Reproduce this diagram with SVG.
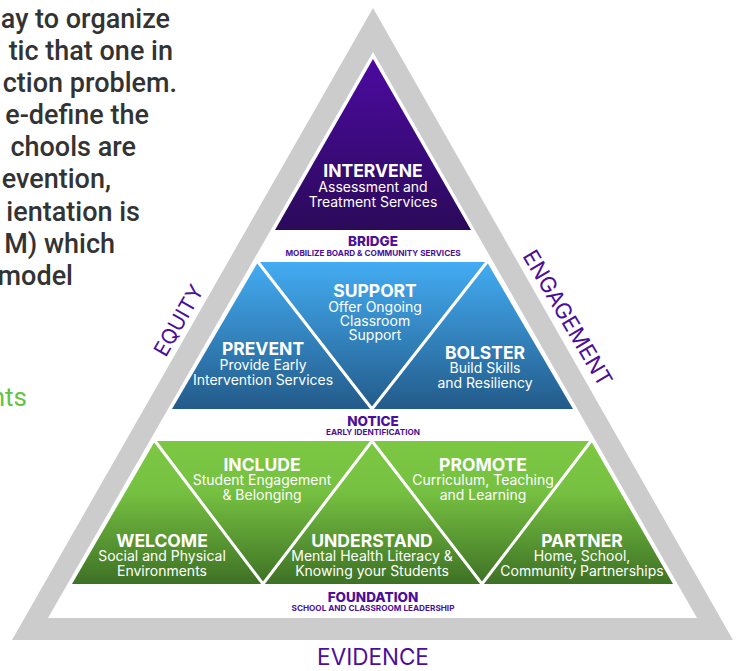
<svg xmlns="http://www.w3.org/2000/svg" width="736" height="671" viewBox="0 0 736 671">
<defs>
<linearGradient id="gPurple" x1="0" y1="59" x2="0" y2="230" gradientUnits="userSpaceOnUse">
<stop offset="0" stop-color="#4c0aa0"/><stop offset="1" stop-color="#2b0a5a"/>
</linearGradient>
<linearGradient id="gBlue" x1="0" y1="262" x2="0" y2="409" gradientUnits="userSpaceOnUse">
<stop offset="0" stop-color="#43acf2"/><stop offset="1" stop-color="#235b8a"/>
</linearGradient>
<linearGradient id="gGreen" x1="0" y1="441" x2="0" y2="584" gradientUnits="userSpaceOnUse">
<stop offset="0" stop-color="#7cc843"/><stop offset="0.35" stop-color="#76c141"/><stop offset="1" stop-color="#3e7125"/>
</linearGradient>
<style>
.h{font-family:"Inter","Liberation Sans",sans-serif;font-weight:700;fill:#fff;text-anchor:middle;font-size:17.5px}
.s{font-family:"Inter","Liberation Sans",sans-serif;font-weight:400;fill:#fff;text-anchor:middle;font-size:14px}
.lh{font-family:"Inter","Liberation Sans",sans-serif;font-weight:800;fill:#4b0f9a;text-anchor:middle;font-size:13.5px}
.ls{font-family:"Inter","Liberation Sans",sans-serif;font-weight:700;fill:#4b0f9a;text-anchor:middle;font-size:8.2px}
.side{font-family:"Inter","Liberation Sans",sans-serif;font-weight:400;fill:#4b0f9a;text-anchor:middle;font-size:21px}
.body{font-family:"Roboto","Liberation Sans",sans-serif;font-weight:500;fill:#333;text-anchor:end;font-size:27px}
.div{stroke:#fff;stroke-width:3;fill:none}
</style>
</defs>
<rect width="736" height="671" fill="#fff"/>
<g id="intro-text">
<text class="body" x="170" y="28">ay to organize</text>
<text class="body" x="173" y="60">tic that one in</text>
<text class="body" x="177" y="92">ction problem.</text>
<text class="body" x="149" y="124">e-define the</text>
<text class="body" x="136" y="156">chools are</text>
<text class="body" x="111" y="188">evention,</text>
<text class="body" x="140" y="221">ientation is</text>
<text class="body" x="115" y="253">M) which</text>
<text class="body" x="73" y="285">model</text>
<text x="27" y="406" style="font-family:Roboto,'Liberation Sans',sans-serif;font-size:26px;fill:#66c144;text-anchor:end">nts</text>
</g>
<g id="frame">
<path d="M373 8 L733 640 L12 640 Z M373 52 L48 618 L697 618 Z" fill="#cccccc" fill-rule="evenodd"/>
<text class="side" transform="translate(185 324) rotate(-60.3)">EQUITY</text>
<text class="side" style="font-size:22px" transform="translate(561 322) rotate(59.5)">ENGAGEMENT</text>
<text class="side" style="font-size:22.5px" x="373" y="665">EVIDENCE</text>
</g>
<g id="intervene">
<path d="M373 59 L471 230 L275 230 Z" fill="url(#gPurple)"/>
<text class="h" x="373" y="177">INTERVENE</text>
<text class="s" x="373" y="192">Assessment and</text>
<text class="s" x="373" y="207">Treatment Services</text>
</g>
<g id="bridge">
<text class="lh" x="373" y="246">BRIDGE</text>
<text class="ls" x="373" y="256">MOBILIZE BOARD &amp; COMMUNITY SERVICES</text>
</g>
<g id="tier-blue">
<path d="M258 262 L487 262 L573 409 L172 409 Z" fill="url(#gBlue)"/>
</g>
<g id="tier-green">
<path d="M155 441 L591 441 L673 584 L72 584 Z" fill="url(#gGreen)"/>
</g>
<g id="connectors">
<path class="div" d="M258 262 L372 409 L487 262"/>
<path class="div" d="M155 441 L263 584 L372 441 L482 584 L591 441"/>
</g>
<g id="support">
<text class="h" x="375" y="297">SUPPORT</text>
<text class="s" x="375" y="312">Offer Ongoing</text>
<text class="s" x="375" y="326">Classroom</text>
<text class="s" x="375" y="340">Support</text>
</g>
<g id="prevent">
<text class="h" x="263" y="355">PREVENT</text>
<text class="s" x="263" y="370">Provide Early</text>
<text class="s" x="263" y="385">Intervention Services</text>
</g>
<g id="bolster">
<text class="h" x="485" y="359">BOLSTER</text>
<text class="s" x="485" y="373">Build Skills</text>
<text class="s" x="485" y="388">and Resiliency</text>
</g>
<g id="notice">
<text class="lh" x="373" y="426">NOTICE</text>
<text class="ls" x="373" y="435">EARLY IDENTIFICATION</text>
</g>
<g id="include">
<text class="h" x="262" y="471">INCLUDE</text>
<text class="s" x="262" y="485">Student Engagement</text>
<text class="s" x="262" y="500">&amp; Belonging</text>
</g>
<g id="promote">
<text class="h" x="483" y="471">PROMOTE</text>
<text class="s" x="483" y="485">Curriculum, Teaching</text>
<text class="s" x="483" y="500">and Learning</text>
</g>
<g id="welcome">
<text class="h" x="162" y="547">WELCOME</text>
<text class="s" x="162" y="561">Social and Physical</text>
<text class="s" x="162" y="576">Environments</text>
</g>
<g id="understand">
<text class="h" x="372" y="547">UNDERSTAND</text>
<text class="s" x="372" y="561">Mental Health Literacy &amp;</text>
<text class="s" x="372" y="576">Knowing your Students</text>
</g>
<g id="partner">
<text class="h" x="582" y="547">PARTNER</text>
<text class="s" x="582" y="561">Home, School,</text>
<text class="s" x="582" y="576">Community Partnerships</text>
</g>
<g id="foundation">
<text class="lh" x="373" y="602">FOUNDATION</text>
<text class="ls" x="373" y="611">SCHOOL AND CLASSROOM LEADERSHIP</text>
</g>
</svg>
